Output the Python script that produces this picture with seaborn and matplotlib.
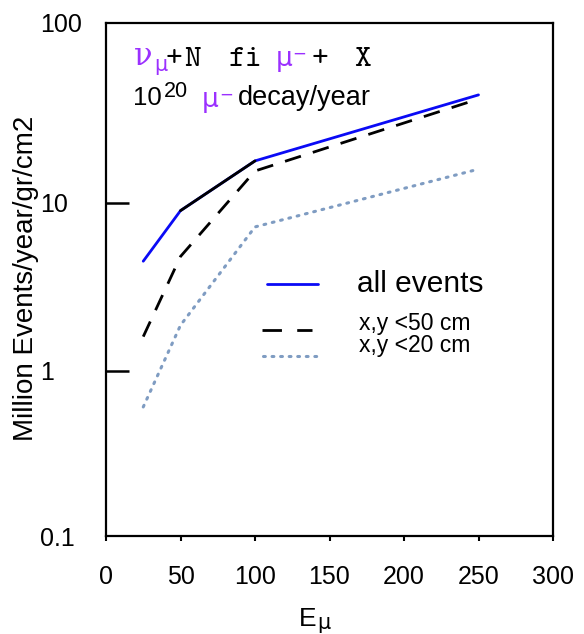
import numpy as np
import pandas as pd
import matplotlib
matplotlib.use("Agg")
import matplotlib.pyplot as plt
import seaborn as sns

# data (E_mu vs million events / year / gr / cm2)
energy = [25, 50, 100, 250]
all_events = [4.5, 9.0, 17.8, 44.0]
xy_50cm = [1.6, 4.8, 15.5, 41.6]
xy_20cm = [0.61, 1.87, 7.2, 15.9]

series_labels = ["all events", "x,y <50 cm", "x,y <20 cm"]
xtick_vals = [0, 50, 100, 150, 200, 250, 300]

BLUE = "#0a0af5"
PURPLE = "#9b30ff"
DOTC = "#7f9cc2"

sns.set_style("white")
plt.rcParams["font.family"] = ["Liberation Sans", "DejaVu Sans"]
plt.rcParams["text.color"] = "black"
plt.rcParams["axes.labelcolor"] = "black"

W, H = 584, 634
fig = plt.figure(figsize=(W / 100, H / 100), dpi=100)
ax = fig.add_axes([106 / W, 1 - 536 / H, (553 - 106) / W, (536 - 23) / H])

df = pd.DataFrame({"E": energy, "all": all_events, "c50": xy_50cm, "c20": xy_20cm})

# all events: blue, with the 50-100 stretch drawn black as in the original
sns.lineplot(data=df, x="E", y="all", color=BLUE, lw=2.0, ax=ax)
sns.lineplot(data=df.iloc[1:3], x="E", y="all", color="black", lw=2.0, ax=ax)
sns.lineplot(data=df, x="E", y="c50", color="black", lw=2.0, ax=ax)
ax.lines[-1].set_dashes((6, 4.5))
sns.lineplot(data=df, x="E", y="c20", color=DOTC, lw=2.2, ax=ax)
ax.lines[-1].set_dashes((0.6, 2.2))
ax.lines[-1].set_dash_capstyle("round")

ax.set_yscale("log")
ax.set_xlim(0, 300)
ylo, yhi = 0.104, 117.9
ax.set_ylim(ylo, yhi)
ax.set_xlabel("")
ax.set_ylabel("")

for s in ax.spines.values():
    s.set_linewidth(1.6)
    s.set_color("black")

ax.set_xticks(xtick_vals)
ax.set_xticklabels([str(v) for v in xtick_vals])
ax.tick_params(axis="x", direction="out", length=3.6, width=1.5, pad=17,
               labelsize=18, bottom=True, colors="black")

ax.yaxis.set_minor_locator(matplotlib.ticker.NullLocator())
ax.set_yticks([ylo, 1, 10, yhi])
ax.set_yticklabels(["0.1", "1", "10", "100"])
ax.tick_params(axis="y", direction="in", length=16.5, width=1.8, pad=47.5,
               labelsize=18, left=True, colors="black")
yt = ax.yaxis.get_major_ticks()
yt[0].tick1line.set_visible(False)
yt[-1].tick1line.set_visible(False)
for lab in ax.get_yticklabels():
    lab.set_horizontalalignment("left")


def axp(px, py):
    return (px - 106) / 447, (536 - py) / 513


def put(s, px, py, size, color="black", family=None, **kw):
    fam = family or ["Liberation Sans", "DejaVu Sans"]
    fig.text(px / W, 1 - py / H, s, fontsize=size, color=color, family=fam,
             ha="left", va="baseline", **kw)


# legend keys
(x0, y0), (x1, _) = axp(267, 284), axp(318, 284)
ax.plot([x0, x1], [y0, y0], transform=ax.transAxes, color=BLUE, lw=2.0)
(x0, y0), (x1, _) = axp(262, 330), axp(312, 330)
k = ax.plot([x0, x1], [y0, y0], transform=ax.transAxes, color="black", lw=2.0)[0]
k.set_dashes((7, 5.5))
(x0, y0), (x1, _) = axp(263, 356), axp(322, 356)
k = ax.plot([x0, x1], [y0, y0], transform=ax.transAxes, color=DOTC, lw=2.2)[0]
k.set_dashes((0.6, 2.2))
k.set_dash_capstyle("round")

put(series_labels[0], 357, 292, 21.5)
put(series_labels[1], 359, 330, 16.5)
put(series_labels[2], 359, 352, 16.5)

# reaction text, first line
tt = ["cmtt10"]
put("\u03bd", 134, 65, 22, PURPLE, ["DejaVu Serif"])
put("\u03bc", 154, 71, 15, PURPLE, ["DejaVu Sans"])
put("+", 166, 66, 23, family=tt)
put("N", 184, 66, 23, family=tt)
put("fi", 229, 66, 23, family=tt)
put("\u03bc", 276, 66, 19, PURPLE, ["DejaVu Sans"])
put("\u2212", 292, 59, 12, PURPLE, ["DejaVu Sans"])
put("+", 312, 66, 23, family=tt)
put("X", 354, 66, 23, family=tt)

# second line
put("10", 133, 105, 18.5)
put("20", 164, 97, 15.5)
put("\u03bc", 202, 107, 19, PURPLE, ["DejaVu Sans"])
put("\u2212", 219, 100, 12, PURPLE, ["DejaVu Sans"])
put("decay/year", 238, 105, 19.5)

# axis titles
put("E", 299, 626, 19)
put("\u03bc", 317, 629, 15, family=["DejaVu Sans"])
fig.text(26 / W, 1 - 278 / H, "Million Events/year/gr/cm2", fontsize=20,
         rotation=90, ha="center", va="center")

fig.savefig("out.png", dpi=100)
